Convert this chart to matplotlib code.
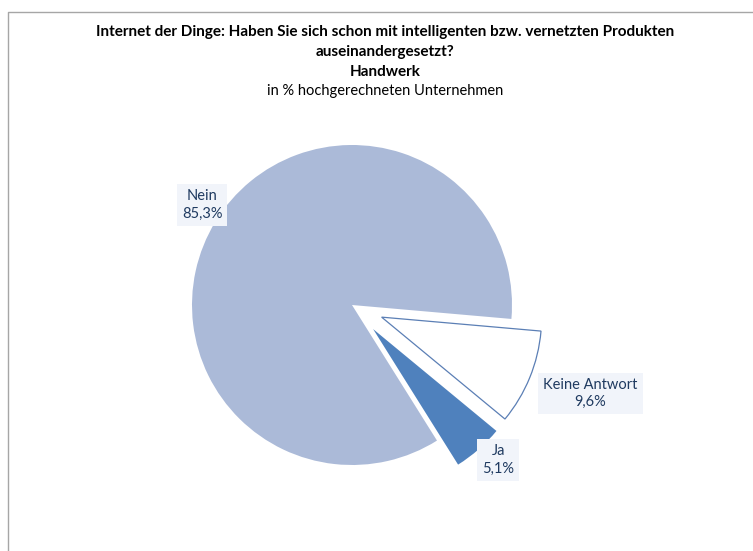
import numpy as np
import matplotlib.pyplot as plt
from matplotlib.lines import Line2D

# Daten
kategorien = ["Keine Antwort", "Ja", "Nein"]
werte = [9.6, 5.1, 85.3]
beschriftung = ["9,6%", "5,1%", "85,3%"]
farben = ["white", "#4f81bd", "#abbad8"]
explode = [0.2, 0.2, 0.0]
label_abstand = [1.39, 1.13, 1.15]
# kleine Korrektur der Beschriftung in Pixel (x, y nach oben)
label_versatz = [(3, 8), (6, 5), (7, 4)]

plt.rcParams['font.family'] = ['Lato', 'DejaVu Sans']

W, H = 753, 551
fig = plt.figure(figsize=(W / 100, H / 100), dpi=100)
ax = fig.add_axes([0, 0, 1, 1])

# Mittelpunkt und Radius in Pixel
cx, cy, r = 352, 305, 160

wedges, _ = ax.pie(werte, colors=farben, explode=explode, startangle=-5,
                   counterclock=False, radius=1,
                   wedgeprops=dict(linewidth=0))
wedges[0].set_edgecolor("#5b7fb5")
wedges[0].set_linewidth(0.9)

ax.set_xlim(-cx / r, (W - cx) / r)
ax.set_ylim(-(H - cy) / r, cy / r)
ax.set_aspect('equal')
ax.axis('off')

for w, k, b, d, v in zip(wedges, kategorien, beschriftung, label_abstand, label_versatz):
    thetam = np.deg2rad(0.5 * (w.theta1 + w.theta2))
    x0, y0 = w.center
    ax.text(x0 + d * np.cos(thetam) + v[0] / r, y0 + d * np.sin(thetam) + v[1] / r,
            k + "\n" + b,
            ha='center', va='center', fontsize=10.5, color="#1f3a60",
            linespacing=1.3,
            bbox=dict(boxstyle='square,pad=0.35', fc="#f1f4fa", ec='none'))

# Titel
tx = 385 / W
fig.text(tx, 1 - 32 / H, "Internet der Dinge: Haben Sie sich schon mit intelligenten bzw. vernetzten Produkten",
         ha='center', va='center', fontsize=11, fontweight='bold')
fig.text(tx, 1 - 52 / H, "auseinandergesetzt?", ha='center', va='center',
         fontsize=11, fontweight='bold')
fig.text(tx, 1 - 72 / H, "Handwerk", ha='center', va='center',
         fontsize=11, fontweight='bold')
fig.text(tx, 1 - 91 / H, "in % hochgerechneten Unternehmen", ha='center',
         va='center', fontsize=10.5)

# Rahmen
fig.add_artist(Line2D([8 / W, 8 / W, 1], [0, 1 - 12 / H, 1 - 12 / H],
                      transform=fig.transFigure, color="#a6a6a6", lw=1))

fig.savefig("out.png", dpi=100)
